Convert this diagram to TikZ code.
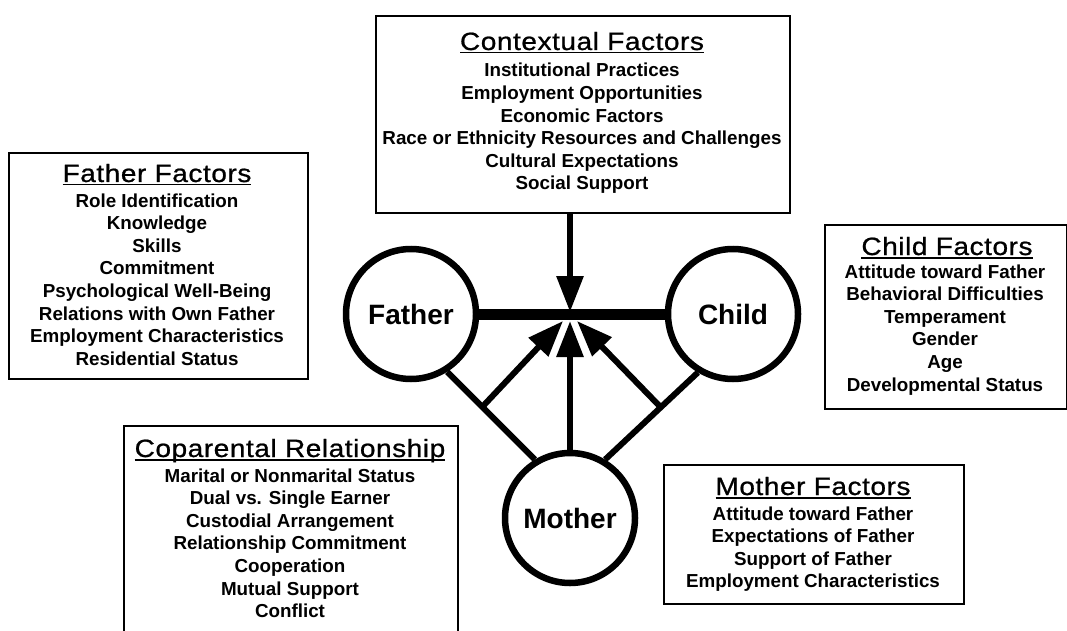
\documentclass[tikz,border=0pt]{standalone}
\usepackage{graphicx}
\usepackage{fontspec}
\setmainfont{Liberation Sans}
\usetikzlibrary{arrows.meta,calc}
\newcommand\ttl[1]{\setbox0\hbox{\scalebox{1.12}[1]{#1}}\rlap{\rule[-3.5pt]{\wd0}{1.8pt}}\box0}
\newcommand\flist[1]{\begin{tabular}[t]{@{}c@{}}#1\end{tabular}}
\begin{document}
\begin{tikzpicture}[x=1pt,y=-1pt,
  box/.style={draw, line width=1.6pt, inner sep=0pt, anchor=north west},
  title/.style={anchor=base, inner sep=0pt, font=\fontsize{25}{30}\selectfont\addfontfeature{LetterSpace=2,FakeBold=0.8}},
  items/.style={anchor=base, inner sep=0pt, font=\bfseries\fontsize{18.8}{22.6}\selectfont},
  person/.style={circle, draw, line width=6.5pt, minimum size=130pt, inner sep=0pt, font=\bfseries\fontsize{28}{32}\selectfont},
  link/.style={line width=6pt},
  arr/.style={line width=6pt, -{Triangle[length=36pt,width=26pt]}},
]
\useasboundingbox (0,0) rectangle (1067,631);
\fill[white] (0,0) rectangle (1067,631);
\clip (0,0) rectangle (1067,631);

% boxes
\node[box, minimum width=414pt, minimum height=197pt] (ctx) at (375,15) {};
\node[box, minimum width=299pt, minimum height=226pt] (fbox) at (8,152) {};
\node[box, minimum width=242pt, minimum height=184pt] (cbox) at (824,224) {};
\node[box, minimum width=334pt, minimum height=220pt] (pbox) at (123,425) {};
\node[box, minimum width=300pt, minimum height=139pt] (mbox) at (663,464) {};

% texts
\node[title] (ctxT) at (582,50) {\ttl{Contextual Factors}};
\node[items] (ctxL) at (582,77) {\flist{Institutional Practices\\Employment Opportunities\\Economic Factors\\Race or Ethnicity Resources and Challenges\\Cultural Expectations\\Social Support}};

\node[title] (fT) at (157,182) {\ttl{Father Factors}};
\node[items] (fL) at (157,207) {\flist{Role Identification\\Knowledge\\Skills\\Commitment\\Psychological Well-Being\\Relations with Own Father\\Employment Characteristics\\Residential Status}};

\node[title] (cT) at (947,255) {\ttl{Child Factors}};
\node[items] (cL) at (945,278) {\flist{Attitude toward Father\\Behavioral Difficulties\\Temperament\\Gender\\Age\\Developmental Status}};

\node[title] (pT) at (290,457) {\ttl{Coparental Relationship}};
\node[items] (pL) at (290,482) {\flist{Marital or Nonmarital Status\\Dual vs. Single Earner\\Custodial Arrangement\\Relationship Commitment\\Cooperation\\Mutual Support\\Conflict}};

\node[title] (mT) at (813,495) {\ttl{Mother Factors}};
\node[items] (mL) at (813,520) {\flist{Attitude toward Father\\Expectations of Father\\Support of Father\\Employment Characteristics}};

% persons
\node[person] (F) at (411,314) {Father};
\node[person] (Ch) at (733,314) {Child};
\node[person] (M) at (570,518) {Mother};

% meeting points
\coordinate (C) at (570,312);
\coordinate (T1) at (563,321);
\coordinate (T2) at (577,321);
\coordinate (T3) at (570,321);

% connectors
\draw[line width=11pt] (F.east) -- (Ch.west);
\draw[arr] (ctx.south -| C) -- (C);
\draw[link] (F.-58) -- (M.121);
\draw[link] (Ch.-121) -- (M.59);
\coordinate (J1) at ($(F.-58)!0.4!(M.121)$);
\coordinate (J2) at ($(Ch.-121)!0.4!(M.59)$);
\draw[arr] (J1) -- (T1);
\draw[arr] (J2) -- (T2);
\draw[arr] (M.north) -- (T3);
\end{tikzpicture}
\end{document}
